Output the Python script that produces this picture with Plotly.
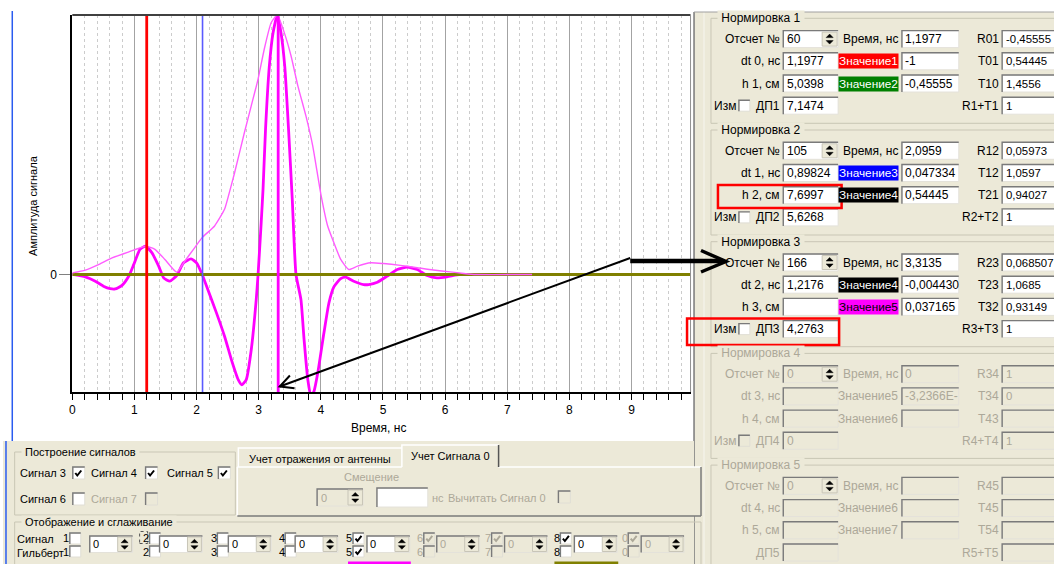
import math
import plotly.graph_objects as go

W, H = 1054, 564
FONT = "Liberation Sans"
BEIGE = "#ece9d8"
GREY_TXT = "#aca899"

# ---------------- data ----------------
sig5_t = [0, 0.21, 0.37, 0.5, 0.61, 0.69, 0.8, 0.91, 0.99, 1.09, 1.18, 1.28, 1.39, 1.47, 1.57,
          1.68, 1.79, 1.91, 2.0, 2.09, 2.19, 2.32, 2.45, 2.56, 2.67, 2.73, 2.8, 2.88, 2.96, 2.99,
          3.04, 3.07, 3.11, 3.17, 3.23, 3.30, 3.36, 3.42, 3.48, 3.54, 3.60, 3.68, 3.73, 3.79,
          3.84, 3.89, 3.95, 4.05, 4.13, 4.21, 4.32, 4.40, 4.53, 4.69, 4.77, 4.91, 5.07, 5.23,
          5.39, 5.55, 5.71, 5.87, 6.03, 6.24, 6.5, 9.95]
sig5_v = [0, -0.009, -0.026, -0.045, -0.055, -0.056, -0.042, -0.006, 0.039, 0.097, 0.109, 0.084,
          0.032, -0.013, -0.026, -0.004, 0.045, 0.06, 0.045, 0.0, -0.064, -0.148, -0.238, -0.328,
          -0.405, -0.425, -0.405, -0.29, -0.097, 0.0, 0.2, 0.33, 0.56, 0.80, 0.93, 1.0, 0.93,
          0.80, 0.56, 0.29, 0.0, -0.097, -0.25, -0.405, -0.47, -0.45, -0.38, -0.225, -0.11,
          -0.048, -0.016, -0.01, -0.026, -0.039, -0.039, -0.03, -0.006, 0.019, 0.028, 0.019,
          -0.004, -0.013, -0.009, 0.0, 0.0, 0.0]

env_t = [0, 0.21, 0.43, 0.64, 0.91, 1.18, 1.33, 1.49, 1.68, 1.81, 1.95, 2.09, 2.29, 2.45, 2.51,
         2.61, 2.77, 2.88, 2.99, 3.09, 3.2, 3.3, 3.41, 3.52, 3.63, 3.76, 3.87, 4.0, 4.11, 4.19,
         4.32, 4.45, 4.59, 4.8, 5.01, 5.28, 5.55, 5.81, 6.08, 6.3, 6.5, 7.4]
env_v = [0.006, 0.017, 0.039, 0.064, 0.087, 0.109, 0.097, 0.058, 0.009, 0.051, 0.097, 0.142,
         0.187, 0.251, 0.30, 0.39, 0.547, 0.65, 0.753, 0.869, 0.97, 1.0, 0.933, 0.843, 0.727,
         0.611, 0.495, 0.31, 0.187, 0.135, 0.058, 0.019, 0.032, 0.045, 0.042, 0.035, 0.026,
         0.017, 0.010, 0.004, 0.0, 0.0]

sig8_t = [0, 9.95]
sig8_v = [0, 0]

marker_times = [1.1977, 2.0959, 3.3135]
x_ticks = [0, 1, 2, 3, 4, 5, 6, 7, 8, 9]

group_titles = ["Нормировка 1", "Нормировка 2", "Нормировка 3", "Нормировка 4", "Нормировка 5"]
group_enabled = [True, True, True, False, False]
col1_labels = [["Отсчет №", "dt 0, нс", "h 1, см", "ДП1"],
               ["Отсчет №", "dt 1, нс", "h 2, см", "ДП2"],
               ["Отсчет №", "dt 2, нс", "h 3, см", "ДП3"],
               ["Отсчет №", "dt 3, нс", "h 4, см", "ДП4"],
               ["Отсчет №", "dt 4, нс", "h 5, см", "ДП5"]]
col1_values = [["60", "1,1977", "5,0398", "7,1474"],
               ["105", "0,89824", "7,6997", "5,6268"],
               ["166", "1,2176", "", "4,2763"],
               ["0", "", "", "0"],
               ["0", "", "", ""]]
col2_labels = [["Время, нс", "Значение1", "Значение2"],
               ["Время, нс", "Значение3", "Значение4"],
               ["Время, нс", "Значение4", "Значение5"],
               ["Время, нс", "Значение5", "Значение6"],
               ["Время, нс", "Значение6", "Значение7"]]
col2_values = [["1,1977", "-1", "-0,45555"],
               ["2,0959", "0,047334", "0,54445"],
               ["3,3135", "-0,004430", "0,037165"],
               ["0", "-3,2366E-", ""],
               ["", "", ""]]
col3_labels = [["R01", "T01", "T10", "R1+T1"],
               ["R12", "T12", "T21", "R2+T2"],
               ["R23", "T23", "T32", "R3+T3"],
               ["R34", "T34", "T43", "R4+T4"],
               ["R45", "T45", "T54", "R5+T5"]]
col3_values = [["-0,45555", "0,54445", "1,4556", "1"],
               ["0,05973", "1,0597", "0,94027", "1"],
               ["0,068507", "1,0685", "0,93149", "1"],
               ["1", "0", "", "1"],
               ["", "", "", ""]]
value_label_bg = [[None, "#ff0000", "#008000"],
                  [None, "#0000ff", "#000000"],
                  [None, "#000000", "#ff00ff"],
                  [None, None, None],
                  [None, None, None]]

build_labels = ["Сигнал 3", "Сигнал 4", "Сигнал 5", "Сигнал 6", "Сигнал 7"]
build_checked = [True, True, True, False, False]
build_enabled = [True, True, True, True, False]

disp_labels = ["1", "2", "3", "4", "5", "6", "7", "8", "0"]
disp_top_checked = [False, False, False, False, True, True, True, True, True]
disp_bot_checked = [False, False, False, False, True, False, False, False, False]
disp_enabled = [True, True, True, True, True, False, False, True, False]

# ---------------- helpers ----------------
def X(px):
    return px / W


def Y(py):
    return 1 - py / H


shapes = []
annotations = []


def rect(x0, y0, x1, y1, fill=None, line=None, lw=1, dash=None):
    shapes.append(dict(type="rect", xref="paper", yref="paper",
                       x0=X(x0), x1=X(x1), y0=Y(y1), y1=Y(y0),
                       fillcolor=fill or "rgba(0,0,0,0)",
                       line=dict(color=line or "rgba(0,0,0,0)", width=lw if line else 0,
                                 dash=dash or "solid")))


def seg(x0, y0, x1, y1, color, w=1):
    shapes.append(dict(type="line", xref="paper", yref="paper",
                       x0=X(x0), x1=X(x1), y0=Y(y0), y1=Y(y1),
                       line=dict(color=color, width=w)))


def path(pts, color, w=1, fill=None, closed=False):
    d = "M " + " L ".join(f"{X(a):.5f},{Y(b):.5f}" for a, b in pts)
    if closed:
        d += " Z"
    shapes.append(dict(type="path", xref="paper", yref="paper", path=d,
                       fillcolor=fill or "rgba(0,0,0,0)",
                       line=dict(color=color, width=w)))


def text(x, y, s, anchor="left", color="black", size=12, bg=None, angle=0):
    a = dict(xref="paper", yref="paper", x=X(x), y=Y(y), text=s, showarrow=False,
             xanchor=anchor, yanchor="middle", textangle=angle, borderpad=0,
             font=dict(family=FONT, size=size, color=color))
    if bg:
        a["bgcolor"] = bg
    annotations.append(a)


def inbox(x0, y0, x1, y1, s="", fill="white", tcolor="black", size=12):
    rect(x0, y0, x1, y1, fill=fill, line="#e4e2da")
    path([(x0, y1), (x0, y0), (x1, y0)], "#7a7a7a", 1.4)
    if s:
        text(x0 + 2.5, (y0 + y1) / 2, s, color=tcolor, size=size)


def spinner(x0, y0, x1, y1, color="black"):
    rect(x0, y0, x1, y1, fill=BEIGE, line="#c8c5b8")
    cx = (x0 + x1) / 2
    cy = (y0 + y1) / 2
    path([(cx - 3.5, cy - 1.5), (cx + 3.5, cy - 1.5), (cx, cy - 5)], color, 0.5, fill=color, closed=True)
    path([(cx - 3.5, cy + 1.5), (cx + 3.5, cy + 1.5), (cx, cy + 5)], color, 0.5, fill=color, closed=True)


def checkbox(x0, cy, checked, enabled=True, size=11):
    y0 = cy - size / 2
    rect(x0, y0, x0 + size, y0 + size, fill="white" if enabled else BEIGE, line="#e0ded5")
    path([(x0, y0 + size), (x0, y0), (x0 + size, y0)], "#7a7a7a", 1.4)
    if checked:
        c = "black" if enabled else GREY_TXT
        path([(x0 + 2.5, cy), (x0 + 4.5, cy + 2.5), (x0 + 8.5, cy - 2.5)], c, 2)


def groupbox(x0, y0, x1, y1, title, enabled=True, size=12):
    rect(x0, y0, x1, y1, line="#c9c6b5")
    text(x0 + 6, y0, " " + title + " ", color="black" if enabled else GREY_TXT, bg=BEIGE, size=size)


def arrow(x0, y0, x1, y1, w, head, ang, hw):
    seg(x0, y0, x1, y1, "black", w)
    dx, dy = x0 - x1, y0 - y1
    L = math.hypot(dx, dy)
    ux, uy = dx / L, dy / L
    pts = []
    for s in (1, -1):
        a = math.radians(ang) * s
        rx = ux * math.cos(a) - uy * math.sin(a)
        ry = ux * math.sin(a) + uy * math.cos(a)
        pts.append((x1 + rx * head, y1 + ry * head))
    path([pts[0], (x1, y1), pts[1]], "black", hw)


# ---------------- backgrounds ----------------
rect(693, 12, 1054, 564, fill=BEIGE)
seg(693, 12, 693, 564, "#7a7a7a", 1.5)
seg(703, 12, 703, 564, "#f7f6f0", 1)
seg(693, 12, 1054, 12, "#a0a0a0", 1)
rect(0, 441, 693, 564, fill=BEIGE)
seg(9.3, 11, 9.3, 441, "#2a5cf0", 1.5)
seg(3, 441, 3, 564, "#2a5cf0", 1.5)

# ---------------- right panel ----------------
for g in range(5):
    ty = 18.3 + 111.7 * g
    en = group_enabled[g]
    tc = "black" if en else GREY_TXT
    boxfill = "white" if en else BEIGE
    groupbox(710, ty, 1075, ty + 105, group_titles[g], en)
    for r in range(4):
        yc = ty + 20.8 + 22.2 * r
        text(780.5, yc, col1_labels[g][r], anchor="right", color=tc)
        if r == 3 and g < 4:
            text(712.5, yc, "Изм", color=tc)
            checkbox(738, yc, False, en)
        inbox(782.5, yc - 8.5, 837.5, yc + 8.5, col1_values[g][r], boxfill, tc)
        if r == 0:
            spinner(821.5, yc - 7, 836.5, yc + 7)
        if r < 3:
            bg = value_label_bg[g][r]
            if bg:
                fc = "black" if bg == "#ff00ff" else "white"
                text(898.5, yc, col2_labels[g][r], anchor="right", color=fc, bg=bg, size=11.8)
            else:
                text(899, yc, col2_labels[g][r], anchor="right", color=tc)
            inbox(901.5, yc - 8.5, 958.5, yc + 8.5, col2_values[g][r], boxfill, tc)
        text(999.5, yc, col3_labels[g][r], anchor="right", color=tc)
        inbox(1002, yc - 8.5, 1070, yc + 8.5, col3_values[g][r], boxfill, tc, 11.4)

# ---------------- bottom panel ----------------
BS = 11
groupbox(11.7, 452, 233, 515, "Построение сигналов", size=BS)
build_pos = [(16, 70, 473), (87, 143, 473), (163, 216, 473), (16, 70, 499), (87, 143, 499)]
for i, (tx, cx, cy) in enumerate(build_pos):
    text(tx, cy, build_labels[i], color="black" if build_enabled[i] else GREY_TXT, size=BS)
    checkbox(cx, cy, build_checked[i], build_enabled[i], 12)

# tab control
rect(235, 467, 700, 516, fill=BEIGE)
seg(235, 467, 400, 467, "white", 1.5)
seg(497, 467, 700, 467, "white", 1.5)
seg(235, 467, 235, 516, "white", 1.5)
seg(235, 516, 700, 516, "#7a7a7a", 1.5)
seg(700, 467, 700, 516, "#7a7a7a", 1.5)
path([(236, 467), (236, 448), (400, 448)], "white", 1.5)
text(318, 458.5, "Учет отражения от антенны", anchor="center", size=BS)
path([(400, 467), (400, 445), (497, 445)], "white", 1.5)
seg(497, 445, 497, 467, "#555555", 1.5)
text(448.5, 455.5, "Учет Сигнала 0", anchor="center", size=BS)
text(370, 477, "Смещение", anchor="center", color=GREY_TXT, size=BS)
inbox(315, 489, 361, 506, "0", BEIGE, GREY_TXT, BS)
spinner(346, 490, 360.5, 505)
inbox(375, 488, 426, 507)
text(429, 498, "нс", color=GREY_TXT, size=BS)
text(445, 498, "Вычитать Сигнал 0", color=GREY_TXT, size=BS)
checkbox(557, 497, False, False, 12)

groupbox(11.7, 522, 700, 585, "Отображение и сглаживание", size=BS)
text(13, 539, "Сигнал", size=BS)
text(13, 552.5, "Гильберт", size=BS)
box_left = [87, 157, 226, 293, 365, 435, 503, 573, 640]
cb_left = [67, 147, 215, 283, 351, 422, 490, 559, 627]
for i, lab in enumerate(disp_labels):
    en = disp_enabled[i]
    tc = "black" if en else GREY_TXT
    text(cb_left[i] + 0.5, 538, lab, anchor="right", color=tc, size=BS)
    text(cb_left[i] + 0.5, 551.5, lab, anchor="right", color=tc, size=BS)
    checkbox(cb_left[i], 538.5, disp_top_checked[i], en, 11)
    checkbox(cb_left[i], 551.5, disp_bot_checked[i], en, 11)
    inbox(box_left[i], 536, box_left[i] + 43, 552.5, "0", "white" if en else BEIGE, tc, BS)
    spinner(box_left[i] + 28, 537, box_left[i] + 42, 551.5)
rect(137, 531.5, 145, 543.5, line="#555555", lw=1, dash="dot")
rect(346, 561.5, 409, 566, fill="#ff00ff")
rect(553, 561.5, 617, 566, fill="#808000")

# ---------------- chart ----------------
fig = go.Figure()
fig.add_trace(go.Scatter(x=sig5_t, y=sig5_v, mode="lines",
                         line=dict(color="#ff00ff", width=2.8, shape="spline", smoothing=0.5),
                         hoverinfo="skip"))
fig.add_trace(go.Scatter(x=sig8_t, y=sig8_v, mode="lines",
                         line=dict(color="#808000", width=3), hoverinfo="skip"))
fig.add_trace(go.Scatter(x=env_t, y=env_v, mode="lines",
                         line=dict(color="#ff5cff", width=1.4, shape="spline", smoothing=0.5),
                         hoverinfo="skip"))

marker_styles = [("#ff0000", 2.8), ("#5a5aff", 1.6), ("#ff00ff", 2.8)]
for tm, (c, w) in zip(marker_times, marker_styles):
    shapes.append(dict(type="line", xref="x", yref="y domain", x0=tm, x1=tm, y0=0, y1=1,
                       line=dict(color=c, width=w)))

# plot frame top / right
seg(69.5, 15, 689.5, 15, "#404040", 2)
seg(689.5, 15, 689.5, 392, "#909090", 1)

# axis titles
text(30, 205, "Амплитуда сигнала", anchor="center", angle=-90, size=11)
text(377, 428, "Время, нс", anchor="center", size=12)

# arrows
seg(629, 261, 722, 261, "black", 4.5)
path([(700, 250.5), (725, 261.5), (700, 272)], "black", 3.5)
arrow(629, 258, 277.5, 386.5, 2, 15, 27, 2)

# red highlight boxes
rect(717, 185, 841, 208, line="#ff0000", lw=2.5)
rect(686, 318.5, 838.5, 345, line="#ff0000", lw=2.5)

fig.update_layout(
    width=W, height=H, margin=dict(l=0, r=0, t=0, b=0),
    paper_bgcolor="white", plot_bgcolor="white", showlegend=False,
    xaxis=dict(domain=[X(69.5), X(689.5)], range=[0, 9.95], tickvals=x_ticks,
               showgrid=True, gridcolor="#a3a3a3", gridwidth=1, zeroline=False,
               ticks="outside", ticklen=6, tickcolor="black", tickwidth=1,
               minor=dict(dtick=0.2, tick0=0, ticks="outside", ticklen=6, tickcolor="black",
                          showgrid=True, gridcolor="#cccccc", griddash="dot", gridwidth=1),
               showline=True, linecolor="black", linewidth=2,
               tickfont=dict(family=FONT, size=12, color="black")),
    yaxis=dict(domain=[Y(392), Y(15)], range=[-0.453, 1.0], tickvals=[0], ticktext=["0"],
               showgrid=False, zeroline=False, ticks="outside", ticklen=11,
               tickcolor="#808080", showline=True, linecolor="black", linewidth=2,
               tickfont=dict(family=FONT, size=12, color="black")),
    shapes=shapes, annotations=annotations,
)

fig.write_html("out.html", config={"displayModeBar": False},
               post_script="document.body.style.margin='0px';document.body.style.overflow='hidden';")
